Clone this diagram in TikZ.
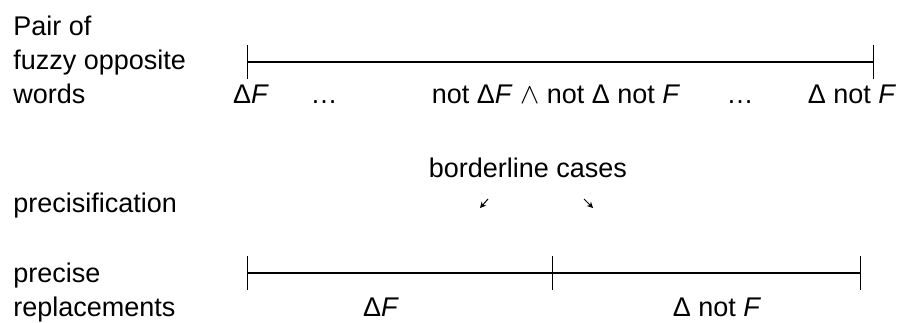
\documentclass[tikz,border=0pt]{standalone}
\usepackage{fontspec}
\setmainfont{Liberation Sans}
\usetikzlibrary{arrows.meta}
\tikzstyle{every node}=[inner sep=0pt, font=\fontsize{13.5}{17}\selectfont]
\tikzstyle{scale line}=[line width=0.7pt, {Bar[width=17pt]}-{Bar[width=17pt]}]
\tikzstyle{scale rest}=[line width=0.7pt, -{Bar[width=17pt]}]
\tikzstyle{hint arrow}=[line width=0.5pt, -{Stealth[length=3pt, width=3pt]}]
\newcommand{\F}{\textit{F}}

\begin{document}
\begin{tikzpicture}[x=0.5pt, y=-0.5pt]
    \useasboundingbox (0,0) rectangle (900,322);
% Row labels
    \node[anchor=base west] (pair) at (13,35) {Pair of};
    \node[anchor=base west] (fuzzy) at (13,69) {fuzzy opposite};
    \node[anchor=base west] (words) at (13,103) {words};
    \node[anchor=base west] (precis) at (13,212) {precisification};
    \node[anchor=base west] (precise) at (13,282) {precise};
    \node[anchor=base west] (repl) at (13,316) {replacements};
% Fuzzy scale
    \coordinate (t1) at (247,62);
    \coordinate (t2) at (874,62);
    \draw[scale line] (t1) -- (t2);
    \node[anchor=base] (fa) at (251,103) {Δ\F};
    \node[anchor=base] (fb) at (324,103) {\ldots};
    \node[anchor=base] (fc) at (556,103) {not Δ\F\ $\wedge$ not Δ not \F};
    \node[anchor=base] (fd) at (740,103) {\ldots};
    \node[anchor=base] (fe) at (852,103) {Δ not \F};
% Borderline cases
    \node[anchor=base] (border) at (528,177) {borderline cases};
    \coordinate (a1) at (488,199);
    \coordinate (a2) at (480,208);
    \coordinate (b1) at (584,199);
    \coordinate (b2) at (593,208);
    \draw[hint arrow] (a1) -- (a2);
    \draw[hint arrow] (b1) -- (b2);
% Precise scale
    \coordinate (p1) at (247,273);
    \coordinate (p2) at (553,273);
    \coordinate (p3) at (861,273);
    \draw[scale line] (p1) -- (p2);
    \draw[scale rest] (p2) -- (p3);
    \node[anchor=base] (pa) at (381,316) {Δ\F};
    \node[anchor=base] (pb) at (717,316) {Δ not \F};
\end{tikzpicture}
\end{document}
